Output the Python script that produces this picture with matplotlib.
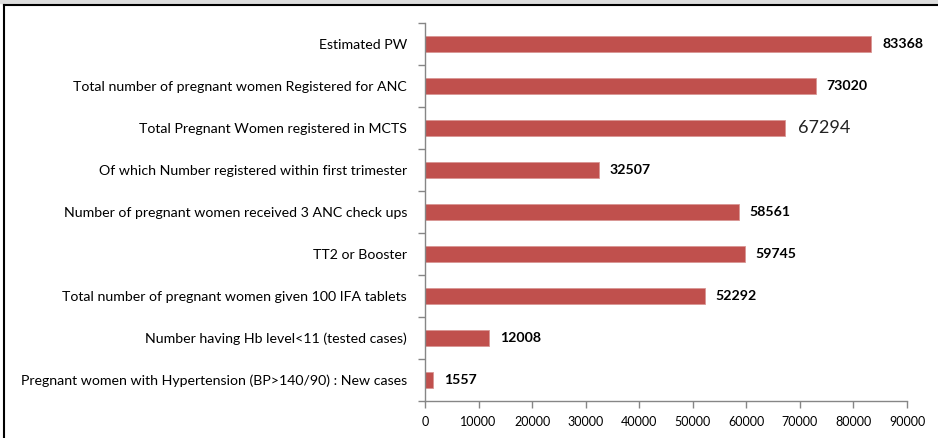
import matplotlib
matplotlib.use("Agg")
import matplotlib.pyplot as plt
from matplotlib.lines import Line2D

categories = [
    "Estimated PW",
    "Total number of pregnant women Registered for ANC",
    "Total Pregnant Women registered in MCTS",
    "Of which Number registered within first trimester",
    "Number of pregnant women received 3 ANC check ups",
    "TT2 or Booster",
    "Total number of pregnant women given 100 IFA tablets",
    "Number having Hb level<11 (tested cases)",
    "Pregnant women with Hypertension (BP>140/90) : New cases",
]
values = [83368, 73020, 67294, 32507, 58561, 59745, 52292, 12008, 1557]
xticks = list(range(0, 90001, 10000))

plt.rcParams['font.family'] = ['Lato', 'DejaVu Sans']

fig = plt.figure(figsize=(9.38, 4.38), dpi=100)
ax = fig.add_axes([425/938, 1 - 401/438, (907 - 425)/938, (401 - 23)/438])

n = len(categories)
ypos = list(range(n))
bar_color = "#C0504D"
ax.barh(ypos, values, height=0.38, color=bar_color, edgecolor="#D99694", linewidth=0.6)
ax.set_ylim(n - 0.5, -0.5)
ax.set_xlim(0, 90000)

ax.set_xticks(xticks)
ax.set_xticklabels([str(t) for t in xticks], fontsize=9)
ax.set_yticks(ypos)
ax.set_yticklabels(categories, fontsize=10.2)
ax.tick_params(axis='y', length=0, pad=13)
ax.set_yticks([i - 0.5 for i in range(n + 1)], minor=True)
ax.tick_params(axis='y', which='minor', length=5, color="#868686", width=1)
ax.tick_params(axis='x', length=5, color="#868686", width=1, pad=6)

for s in ['top', 'right']:
    ax.spines[s].set_visible(False)
for s in ['left', 'bottom']:
    ax.spines[s].set_color("#868686")
    ax.spines[s].set_linewidth(1)

for i, v in enumerate(values):
    if i == 2:
        ax.text(v + 2300, i, str(v), va='center', ha='left', fontsize=13, color='#222222')
    else:
        ax.text(v + 2000, i, str(v), va='center', ha='left', fontsize=10.2, fontweight='bold', color='black')

# frame lines like the reference crop
fig.patches.append(plt.Rectangle((0, 1 - 3/438), 1, 3/438, transform=fig.transFigure,
                                 color="#DDDDDD", zorder=0))
fig.lines.append(Line2D([4/938, 1], [1 - 5/438, 1 - 5/438], transform=fig.transFigure,
                        color="black", linewidth=1.5))
fig.lines.append(Line2D([4/938, 4/938], [0, 1 - 5/438], transform=fig.transFigure,
                        color="black", linewidth=1.5))

fig.savefig("out.png", dpi=100)
